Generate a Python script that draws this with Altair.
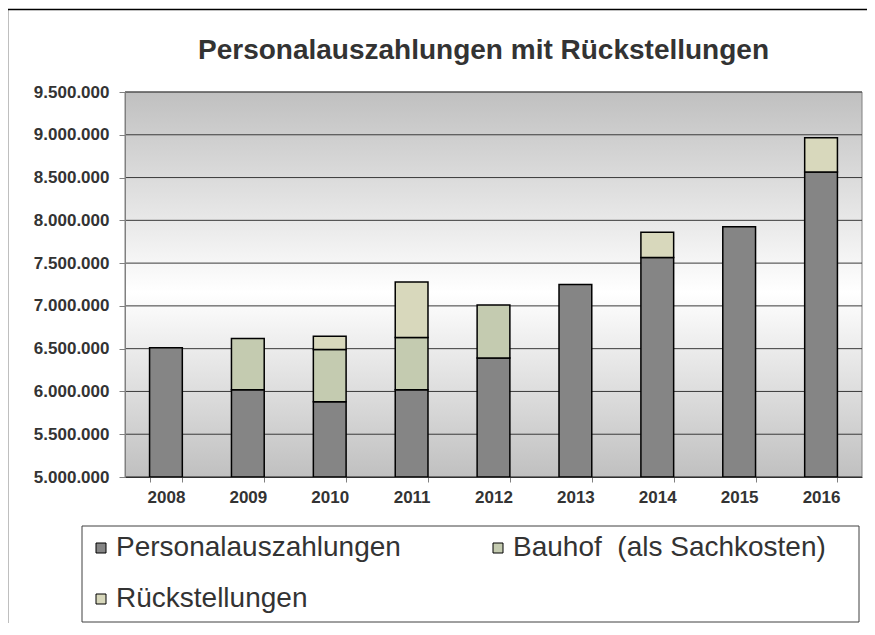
import altair as alt
import pandas as pd

# ---- data ----
years = ["2008", "2009", "2010", "2011", "2012", "2013", "2014", "2015", "2016"]
personal = [6510000, 6020000, 5880000, 6020000, 6390000, 7250000, 7565000, 7925000, 8565000]
bauhof = [0, 600000, 610000, 610000, 620000, 0, 0, 0, 0]
rueck = [0, 0, 155000, 650000, 0, 0, 295000, 0, 400000]
series_names = ["Personalauszahlungen", "Bauhof\u00a0 (als Sachkosten)", "Rückstellungen"]
series_colors = ["#858585", "#c4cbb0", "#d8d8bc"]
y_ticks = [5000000, 5500000, 6000000, 6500000, 7000000, 7500000, 8000000, 8500000, 9000000, 9500000]
base = 5000000
title_text = "Personalauszahlungen mit Rückstellungen"

FONT = "Liberation Sans"
W, H = 737, 385

# build stacked table (segments start at the axis baseline)
rows = []
for i, yr in enumerate(years):
    lo = base
    for k, vals in enumerate([personal, bauhof, rueck]):
        v = vals[i]
        if k == 0:
            rows.append({"year": yr, "series": series_names[k], "start": lo, "end": v, "order": k})
            lo = v
        elif v > 0:
            rows.append({"year": yr, "series": series_names[k], "start": lo, "end": lo + v, "order": k})
            lo = lo + v
bars_df = pd.DataFrame(rows)
grid_df = pd.DataFrame({"v": y_ticks})

yscale = alt.Scale(domain=[y_ticks[0], y_ticks[-1]], zero=False, nice=False)
xscale = alt.Scale(domain=years, paddingInner=0.6, paddingOuter=0.3)
y_axis = alt.Axis(
    title=None, values=y_ticks, format=",d", labelFont=FONT,
    labelFontSize=17, labelFontWeight="bold", labelColor="#333333",
    labelPadding=10, tickSize=6, tickColor="#808080",
    domainColor="#808080", grid=False, zindex=1,
)

one = pd.DataFrame({"t": [title_text]})

frame = alt.Chart(one).mark_rect(
    fillOpacity=0, stroke="#000000", strokeWidth=1.5
).encode(
    x=alt.value(-117.5), x2=alt.value(760), y=alt.value(-82.5), y2=alt.value(600)
)

title = alt.Chart(one).mark_text(
    font=FONT, fontSize=28, fontWeight="bold", color="#333333",
    align="center", baseline="alphabetic",
).encode(
    x=alt.value(W / 2 - 10), y=alt.value(-33), text="t:N"
)

legend_box = alt.Chart(one).mark_rect(
    fill="#ffffff", stroke="#404040", strokeWidth=1
).encode(
    x=alt.value(-43), x2=alt.value(734), y=alt.value(434), y2=alt.value(530)
)

background = alt.Chart(one).mark_rect(
    fill=alt.Gradient(
        gradient="linear",
        stops=[
            alt.GradientStop(color="#c0c0c0", offset=0),
            alt.GradientStop(color="#ffffff", offset=0.52),
            alt.GradientStop(color="#c0c0c0", offset=1),
        ],
        x1=0, x2=0, y1=0, y2=1,
    ),
    stroke="#808080",
    strokeWidth=1,
).encode(
    x=alt.value(0), x2=alt.value(W), y=alt.value(0), y2=alt.value(H)
)

grid = alt.Chart(grid_df).mark_rule(color="#3a3a3a", strokeWidth=1).encode(
    y=alt.Y("v:Q", scale=yscale, axis=y_axis)
)

bars = alt.Chart(bars_df).mark_bar(stroke="#000000", strokeWidth=1.5).encode(
    x=alt.X(
        "year:O",
        scale=xscale,
        sort=years,
        axis=alt.Axis(
            title=None, labelAngle=0, labelFont=FONT, labelFontSize=17,
            labelFontWeight="bold", labelColor="#333333", labelPadding=7,
            tickBand="extent", tickSize=5, tickColor="#808080",
            domainColor="#303030", domainWidth=1, grid=False, zindex=1,
        ),
    ),
    y=alt.Y("start:Q", scale=yscale, axis=y_axis),
    y2="end:Q",
    color=alt.Color(
        "series:N",
        scale=alt.Scale(domain=series_names, range=series_colors),
        legend=alt.Legend(
            title=None, orient="none", legendX=-38, legendY=442, columns=2,
            direction="horizontal",
            columnPadding=83, rowPadding=23, symbolType="square",
            symbolSize=100, symbolStrokeColor="#000000", symbolStrokeWidth=1,
            labelFont=FONT, labelFontSize=28, labelColor="#333333",
            labelOffset=1, labelLimit=500, padding=0,
        ),
    ),
    order=alt.Order("order:Q"),
)

chart = alt.layer(frame, title, legend_box, background, grid, bars).properties(
    width=W,
    height=H,
    padding={"left": 117, "top": 84, "right": 5, "bottom": 146},
    autosize=alt.AutoSizeParams(type="none"),
).configure(
    locale={"number": {"decimal": ",", "thousands": ".", "grouping": [3],
                       "currency": ["", " €"]}}
).configure_view(stroke=None)

chart.save("out.html", embed_options={"renderer": "svg", "actions": False})
